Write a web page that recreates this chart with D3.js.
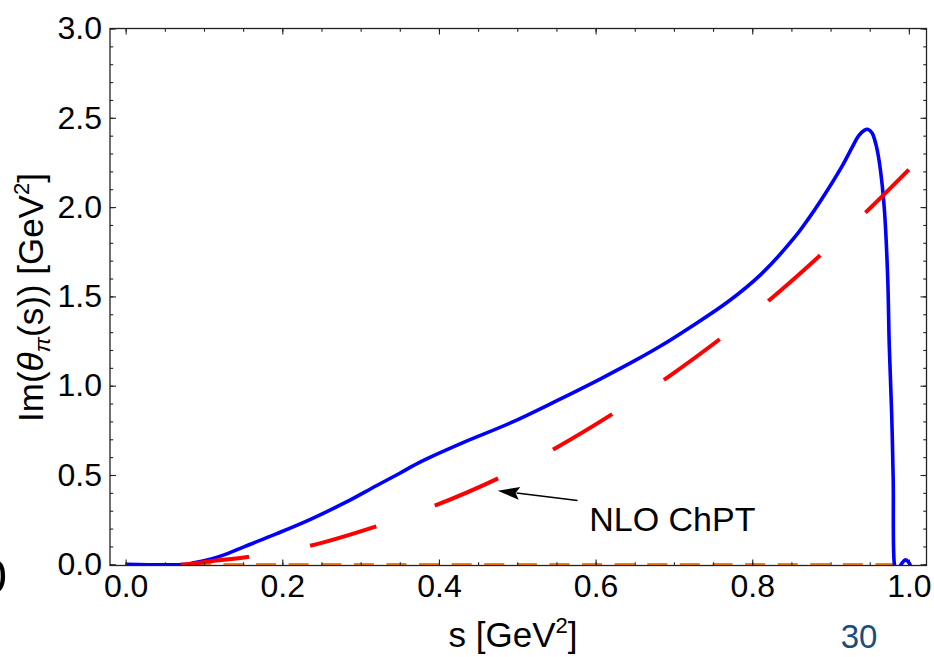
<!DOCTYPE html>
<html>
<head>
<meta charset="utf-8">
<script src="https://cdn.jsdelivr.net/npm/d3@7"></script>
<style>
  html, body { margin: 0; padding: 0; background: #fff; }
  svg { display: block; }
  text { font-family: "Liberation Sans", Arial, Helvetica, sans-serif; }
</style>
</head>
<body>
<svg id="chart" width="934" height="657"></svg>
<script>
// ---------------- data ----------------
const sFull = [0, 0.078, 0.087, 0.108, 0.13, 0.151, 0.193, 0.236, 0.28, 0.32, 0.35, 0.377, 0.43, 0.492, 0.55, 0.607, 0.65, 0.684, 0.72, 0.769, 0.8115, 0.854, 0.871, 0.888, 0.914, 0.927, 0.936, 0.943, 0.948, 0.953, 0.958, 0.962, 0.966, 0.969, 0.973, 0.975, 0.978, 0.980, 0.9815, 0.984, 0.9875, 0.991, 0.9955, 1.0, 1.003];
const imFull = [0, 0, 0.008, 0.028, 0.06, 0.098, 0.172, 0.252, 0.345, 0.44, 0.51, 0.575, 0.68, 0.793, 0.915, 1.04, 1.14, 1.225, 1.325, 1.47, 1.625, 1.83, 1.93, 2.04, 2.224, 2.33, 2.40, 2.43, 2.435, 2.415, 2.35, 2.26, 2.12, 1.97, 1.60, 1.218, 0.847, 0.472, 0.0, -0.04, -0.02, 0.005, 0.025, 0.01, -0.02];

const sNLO = [0, 0.078, 0.108, 0.1576, 0.235, 0.319, 0.394, 0.476, 0.547, 0.623, 0.692, 0.7626, 0.8277, 0.893, 0.953, 1.0];
const imNLO = [0, 0, 0.017, 0.042, 0.103, 0.211, 0.327, 0.482, 0.646, 0.846, 1.047, 1.274, 1.501, 1.755, 2.005, 2.21];

const sZero = [0, 1.0];
const imZero = [0, 0];

const xMajor = [0, 0.2, 0.4, 0.6, 0.8, 1.0];
const xMajorLabels = ["0.0", "0.2", "0.4", "0.6", "0.8", "1.0"];
const xMinor = d3.range(0, 1.0001, 0.05);
const yMajor = [0, 0.5, 1.0, 1.5, 2.0, 2.5, 3.0];
const yMajorLabels = ["0.0", "0.5", "1.0", "1.5", "2.0", "2.5", "3.0"];
const yMinor = d3.range(0, 3.0001, 0.1);

const annotationText = "NLO ChPT";
const annotationTextAt = [0.698, 0.185];
const arrowFrom = [0.577, 0.357];
const arrowTo = [0.475, 0.412];

const pageNumber = "30";

// ---------------- layout ----------------
const svg = d3.select("#chart");
const frame = { left: 110, right: 926.5, top: 28.5, bottom: 565.5 };
const x = d3.scaleLinear().domain([-0.02, 1.0225]).range([frame.left, frame.right]);
const y = d3.scaleLinear().domain([0, 3]).range([564.3, 28.5]);
const FONT = '"Liberation Sans", Arial, Helvetica, sans-serif';

svg.append("defs").append("clipPath").attr("id", "plotclip")
  .append("rect")
  .attr("x", frame.left).attr("y", frame.top)
  .attr("width", frame.right - frame.left).attr("height", frame.bottom - frame.top);

const plot = svg.append("g").attr("clip-path", "url(#plotclip)");

const line = d3.line().x(d => x(d[0])).y(d => y(d[1])).curve(d3.curveCatmullRom.alpha(0.5));

// orange y=0 dashed line
plot.append("path")
  .datum(sZero.map((s, i) => [s, imZero[i]]))
  .attr("d", d3.line().x(d => x(d[0])).y(d => y(d[1])))
  .attr("fill", "none").attr("stroke", "#ff8000").attr("stroke-width", 2.8)
  .attr("stroke-dasharray", "20 12.6");

// blue full curve
plot.append("path")
  .datum(sFull.map((s, i) => [s, imFull[i]]))
  .attr("d", line)
  .attr("fill", "none").attr("stroke", "#0000ff").attr("stroke-width", 3.6)
  .attr("stroke-linejoin", "round");

// red NLO dashed curve
const redPath = plot.append("path")
  .datum(sNLO.map((s, i) => [s, imNLO[i]]))
  .attr("d", line)
  .attr("fill", "none").attr("stroke", "#ff0000").attr("stroke-width", 4)
  .attr("stroke-dasharray", "69 62");
// align the dash pattern so the first dash ends at s = 0.1576
(function () {
  const node = redPath.node();
  const total = node.getTotalLength();
  const target = x(0.1576);
  let lo = 0, hi = total;
  for (let k = 0; k < 40; k++) {
    const mid = (lo + hi) / 2;
    if (node.getPointAtLength(mid).x < target) lo = mid; else hi = mid;
  }
  const off = ((69 - lo) % 131 + 131) % 131;
  redPath.attr("stroke-dashoffset", off);
})();

// ---------------- axes / frame ----------------
const axisColor = "#222";
function styleAxis(g) {
  g.select(".domain").remove();
  g.selectAll("line").attr("stroke", axisColor).attr("stroke-width", 1.1);
  g.selectAll("text").attr("font-family", FONT).attr("font-size", 32).attr("fill", "#000");
}

// bottom
svg.append("g").attr("transform", `translate(0,${frame.bottom})`)
  .call(d3.axisBottom(x).tickValues(xMinor).tickSizeInner(-3.2).tickSizeOuter(0).tickFormat(""))
  .call(styleAxis);
svg.append("g").attr("transform", `translate(0,${frame.bottom})`)
  .call(d3.axisBottom(x).tickValues(xMajor).tickSizeInner(-6).tickSizeOuter(0).tickPadding(9)
    .tickFormat((d, i) => xMajorLabels[i]))
  .call(styleAxis);
// top
svg.append("g").attr("transform", `translate(0,${frame.top})`)
  .call(d3.axisTop(x).tickValues(xMinor).tickSizeInner(-3.2).tickSizeOuter(0).tickFormat(""))
  .call(styleAxis);
svg.append("g").attr("transform", `translate(0,${frame.top})`)
  .call(d3.axisTop(x).tickValues(xMajor).tickSizeInner(-6).tickSizeOuter(0).tickFormat(""))
  .call(styleAxis);
// left
svg.append("g").attr("transform", `translate(${frame.left},0)`)
  .call(d3.axisLeft(y).tickValues(yMinor).tickSizeInner(-3.2).tickSizeOuter(0).tickFormat(""))
  .call(styleAxis);
svg.append("g").attr("transform", `translate(${frame.left},0)`)
  .call(d3.axisLeft(y).tickValues(yMajor).tickSizeInner(-6).tickSizeOuter(0).tickPadding(8)
    .tickFormat((d, i) => yMajorLabels[i]))
  .call(styleAxis);
// right
svg.append("g").attr("transform", `translate(${frame.right},0)`)
  .call(d3.axisRight(y).tickValues(yMinor).tickSizeInner(-3.2).tickSizeOuter(0).tickFormat(""))
  .call(styleAxis);
svg.append("g").attr("transform", `translate(${frame.right},0)`)
  .call(d3.axisRight(y).tickValues(yMajor).tickSizeInner(-6).tickSizeOuter(0).tickFormat(""))
  .call(styleAxis);

svg.append("rect")
  .attr("x", frame.left).attr("y", frame.top)
  .attr("width", frame.right - frame.left).attr("height", frame.bottom - frame.top)
  .attr("fill", "none").attr("stroke", axisColor).attr("stroke-width", 1.3);

// ---------------- titles ----------------
const xt = svg.append("text")
  .attr("x", 513).attr("y", 647)
  .attr("text-anchor", "middle").attr("font-size", 35).attr("font-family", FONT);
xt.append("tspan").text("s [GeV");
xt.append("tspan").attr("font-size", 22).attr("dy", -14).text("2");
xt.append("tspan").attr("dy", 14).text("]");

const yt = svg.append("text")
  .attr("transform", "translate(43,297.5) rotate(-90)")
  .attr("text-anchor", "middle").attr("font-size", 35).attr("font-family", FONT);
yt.append("tspan").text("Im(");
yt.append("tspan").attr("font-style", "italic").text("θ");
yt.append("tspan").attr("font-style", "italic").attr("font-size", 23).attr("dy", 7).text("π");
yt.append("tspan").attr("dy", -7).text("(s)) [GeV");
yt.append("tspan").attr("font-size", 22).attr("dy", -14).text("2");
yt.append("tspan").attr("dy", 14).text("]");

// ---------------- annotation ----------------
svg.append("text")
  .attr("x", x(annotationTextAt[0])).attr("y", y(annotationTextAt[1]))
  .attr("text-anchor", "middle").attr("font-size", 34).attr("font-family", FONT)
  .text(annotationText);

(function () {
  const x1 = x(arrowFrom[0]), y1 = y(arrowFrom[1]);
  const x2 = x(arrowTo[0]), y2 = y(arrowTo[1]);
  const dx = x2 - x1, dy = y2 - y1, L = Math.hypot(dx, dy);
  const ux = dx / L, uy = dy / L;
  const hl = 22, hw = 6.5;
  const bx = x2 - ux * hl, by = y2 - uy * hl;
  svg.append("line")
    .attr("x1", x1).attr("y1", y1).attr("x2", bx + ux * 3).attr("y2", by + uy * 3)
    .attr("stroke", "#000").attr("stroke-width", 1.6);
  svg.append("path")
    .attr("d", `M${x2},${y2}L${bx - uy * hw},${by + ux * hw}L${bx + ux * 4},${by + uy * 4}L${bx + uy * hw},${by - ux * hw}Z`)
    .attr("fill", "#000");
})();

// ---------------- slide leftovers ----------------
svg.append("text")
  .attr("x", 859).attr("y", 648)
  .attr("text-anchor", "middle").attr("font-size", 33).attr("font-family", FONT)
  .attr("fill", "#1b4d7c").text(pageNumber);

svg.append("text")
  .attr("x", 7).attr("y", 593)
  .attr("text-anchor", "end").attr("font-size", 49).attr("font-family", FONT)
  .attr("fill", "#000").text("0");
</script>
</body>
</html>
